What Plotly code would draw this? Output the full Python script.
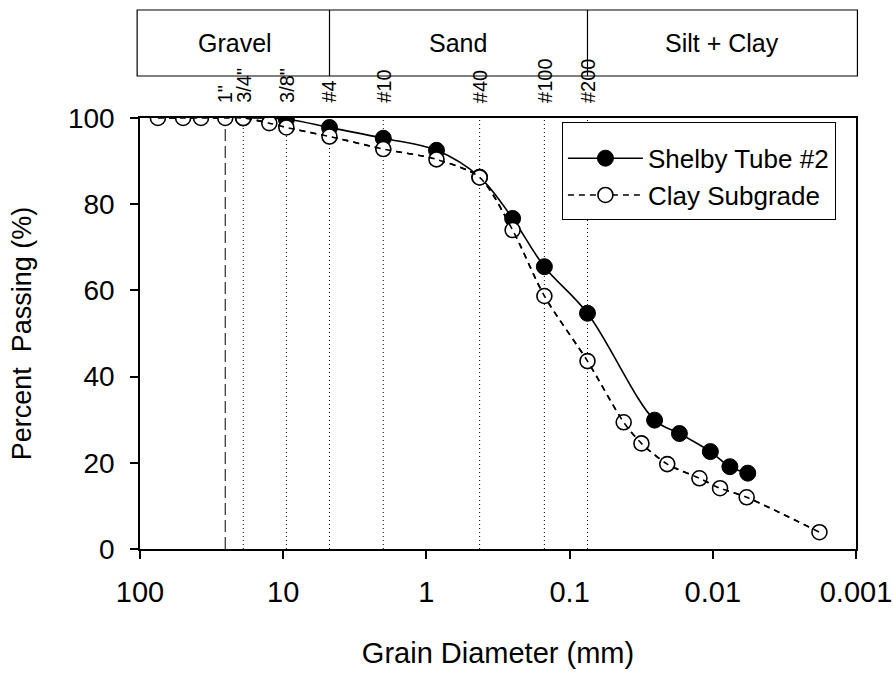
import numpy as np
import plotly.graph_objects as go

# ---- data ----
shelby_d = [19.0, 9.5, 4.75, 2.0, 0.85, 0.425, 0.25, 0.15, 0.075, 0.0255, 0.0171, 0.0104, 0.0076, 0.0057]
shelby_p = [100.0, 99.7, 97.8, 95.3, 92.5, 86.3, 76.7, 65.5, 54.7, 29.9, 26.8, 22.6, 19.1, 17.6]

clay_d = [75.0, 50.0, 37.5, 25.4, 19.0, 12.5, 9.5, 4.75, 2.0, 0.85, 0.425, 0.25, 0.15, 0.075,
          0.0419, 0.0315, 0.0208, 0.0124, 0.0089, 0.0058, 0.0018]
clay_p = [100.0, 100.0, 100.0, 100.0, 100.0, 98.8, 97.8, 95.7, 92.8, 90.4, 86.2, 74.0, 58.7, 43.6,
          29.4, 24.5, 19.7, 16.4, 14.1, 12.0, 3.9]

sieve_labels = ['1"', '3/4"', '3/8"', '#4', '#10', '#40', '#100', '#200']
sieve_sizes = [25.4, 19.0, 9.5, 4.75, 2.0, 0.425, 0.15, 0.075]

soil_classes = ['Gravel', 'Sand', 'Silt + Clay']
class_bounds = [100.0, 4.75, 0.075, 0.001]

x_tickvals = [100, 10, 1, 0.1, 0.01, 0.001]
x_ticktext = ['100', '10', '1', '0.1', '0.01', '0.001']
y_tickvals = [0, 20, 40, 60, 80, 100]

FONT = "Liberation Sans, Arial, sans-serif"

fig = go.Figure()

# sieve lines (shapes on log axis take data values; annotations take log10)
for lab, s in zip(sieve_labels, sieve_sizes):
    fig.add_shape(type="line", xref="x", yref="y", x0=s, x1=s, y0=0, y1=100,
                  line=dict(color="black", width=1, dash="12px,5px" if lab == '1"' else "1px,3px"),
                  layer="below")
    fig.add_annotation(x=np.log10(s), y=1.03, xref="x", yref="paper", text=lab, textangle=-90,
                       showarrow=False, xanchor="center", yanchor="bottom",
                       font=dict(family=FONT, size=20, color="black"))

fig.add_trace(go.Scatter(
    x=shelby_d, y=shelby_p, name="Shelby Tube #2", mode="lines+markers",
    line=dict(color="black", width=1.6, shape="spline", smoothing=1.0),
    marker=dict(symbol="circle", size=16, color="black", line=dict(color="black", width=1)),
))
fig.add_trace(go.Scatter(
    x=clay_d, y=clay_p, name="Clay Subgrade", mode="lines+markers",
    line=dict(color="black", width=1.6, dash="6px,5px", shape="spline", smoothing=0.8),
    marker=dict(symbol="circle", size=15, color="white", line=dict(color="black", width=1.6)),
))
fig.add_trace(go.Scatter(
    x=clay_d, y=clay_p, mode="lines", showlegend=False, hoverinfo="skip",
    line=dict(color="black", width=1.6, dash="6px,5px", shape="spline", smoothing=0.8),
))

# header classification box
Y0, Y1 = 1.0974, 1.2506
fig.add_shape(type="rect", xref="paper", yref="paper", x0=-0.004, x1=1.002, y0=Y0, y1=Y1,
              line=dict(color="black", width=1.2), fillcolor="rgba(0,0,0,0)")
for b in class_bounds[1:-1]:
    fig.add_shape(type="line", xref="x", yref="paper", x0=b, x1=b, y0=Y0, y1=Y1,
                  line=dict(color="black", width=1.2))
for i, name in enumerate(soil_classes):
    lo = np.log10(class_bounds[i])
    hi = np.log10(class_bounds[i + 1])
    fig.add_annotation(x=(lo + hi) / 2, y=(Y0 + Y1) / 2, xref="x", yref="paper", text=name, showarrow=False,
                       xanchor="center", yanchor="middle", font=dict(family=FONT, size=25, color="black"))

fig.update_layout(
    width=893, height=673,
    margin=dict(l=140, r=37, t=118, b=124, autoexpand=False),
    paper_bgcolor="white", plot_bgcolor="white",
    font=dict(family=FONT, color="black", size=28),
    legend=dict(x=0.589, y=0.991, xanchor="left", yanchor="top", bordercolor="black", borderwidth=1.2,
                bgcolor="white", font=dict(family=FONT, size=26), itemwidth=75, tracegroupgap=0,
                title=dict(text=" ", font=dict(size=9))),
    xaxis=dict(type="log", range=[2, -3], tickvals=x_tickvals, ticktext=x_ticktext, automargin=False,
               showline=True, mirror=True, linecolor="black", linewidth=1.5,
               ticks="outside", ticklen=8, tickwidth=1.5, tickcolor="black",
               showgrid=False, zeroline=False, tickfont=dict(size=29), ticklabelstandoff=8,
               title=dict(text="Grain Diameter (mm)", font=dict(size=29), standoff=36)),
    yaxis=dict(range=[0, 100], tickvals=y_tickvals, automargin=False,
               showline=True, mirror=True, linecolor="black", linewidth=1.5,
               ticks="outside", ticklen=8, tickwidth=1.5, tickcolor="black",
               showgrid=False, zeroline=False, tickfont=dict(size=28), ticklabelstandoff=10,
               title=dict(text="Percent  Passing (%)", font=dict(size=27), standoff=28)),
)

fig.write_html("out.html")
